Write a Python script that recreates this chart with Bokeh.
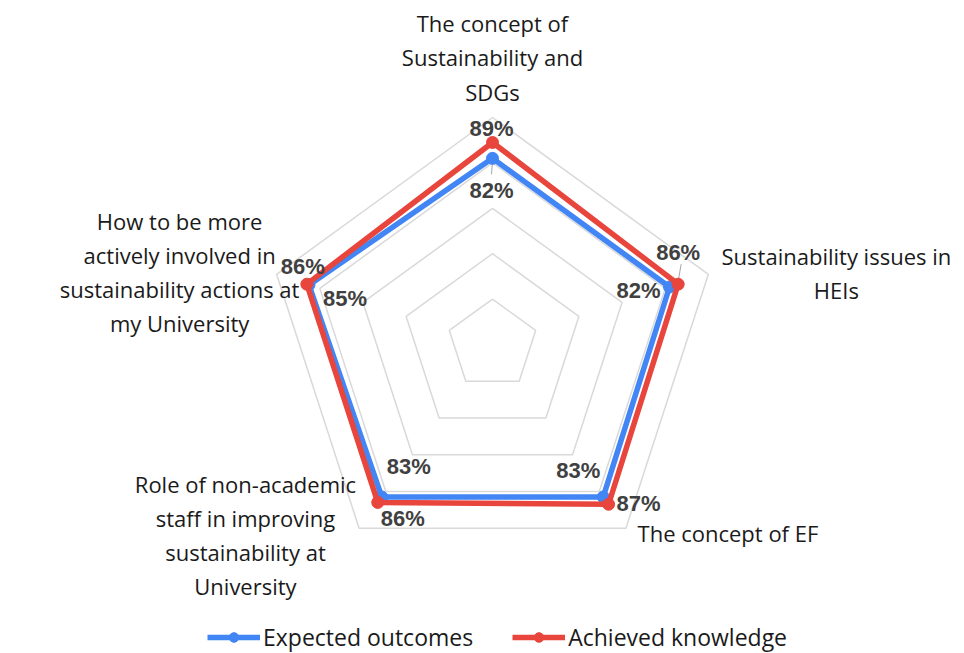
import numpy as np
from bokeh.plotting import figure
from bokeh.models import Range1d, Legend, LegendItem, ColumnDataSource
from bokeh.core.properties import value
from bokeh.embed import file_html
from bokeh.resources import INLINE

# ---------------- data ----------------
categories = [
    "The concept of\nSustainability and\nSDGs",
    "Sustainability issues in\nHEIs",
    "The concept of EF",
    "Role of non-academic\nstaff in improving\nsustainability at\nUniversity",
    "How to be more\nactively involved in\nsustainability actions at\nmy University",
]
expected = [82, 82, 83, 83, 85]
achieved = [89, 86, 87, 86, 86]
ring_levels = [20, 40, 60, 80, 100]
series_names = ["Expected outcomes", "Achieved knowledge"]

# ---------------- layout / style ----------------
W, H = 964, 653
CX, CY = 492, 344      # centre of radar in pixels
S = 2.27               # pixels per percent
BLUE = "#4285F4"
RED = "#E8453C"
GRID = "#D9D9D9"
LABEL_COLOR = "#404040"
CAT_FONT = "Open Sans"
VAL_FONT = "Liberation Sans"

n = len(categories)
theta = np.pi / 2 - 2 * np.pi * np.arange(n) / n
cos_t, sin_t = np.cos(theta), np.sin(theta)

p = figure(width=W, height=H,
           x_range=Range1d(-CX / S, (W - CX) / S),
           y_range=Range1d(-(H - CY) / S, CY / S),
           x_axis_type=None, y_axis_type=None,
           output_backend="svg", toolbar_location=None, min_border=0)
p.grid.visible = False
p.outline_line_color = None
p.background_fill_color = "white"
p.border_fill_color = "white"

# rings
xs = [list(r * cos_t) + [r * cos_t[0]] for r in ring_levels]
ys = [list(r * sin_t) + [r * sin_t[0]] for r in ring_levels]
p.multi_line(xs, ys, line_color=GRID, line_width=1.5)

def closed(vals):
    v = np.array(vals, dtype=float)
    x = v * cos_t
    y = v * sin_t
    return list(x) + [x[0]], list(y) + [y[0]], list(x), list(y)

ex_x, ex_y, ex_px, ex_py = closed(expected)
ac_x, ac_y, ac_px, ac_py = closed(achieved)

# leader lines (pixel offsets converted to data units)
lead_src = ColumnDataSource(dict(
    x0=[ex_px[0], ac_px[1]],
    y0=[ex_py[0] - 3 / S, ac_py[1] + 3 / S],
    x1=[ex_px[0] - 1 / S, ac_px[1] + 3 / S],
    y1=[ex_py[0] - 16 / S, ac_py[1] + 20 / S],
))
p.segment("x0", "y0", "x1", "y1", source=lead_src, line_color="#A6A6A6", line_width=1)

bl = p.line(ex_x, ex_y, line_color=BLUE, line_width=5.5, line_join="round")
bs = p.scatter(ex_px, ex_py, size=12, marker="circle", fill_color=BLUE, line_color=BLUE)
rl = p.line(ac_x, ac_y, line_color=RED, line_width=5.5, line_join="round")
rs = p.scatter(ac_px, ac_py, size=12, marker="circle", fill_color=RED, line_color=RED)

# value labels
ex_dx = [-1, -31, -25, 27, 36]
ex_dy = [32, 3.5, -26, -30, 14]
ac_dx = [-1, 0, 30, 25, -4]
ac_dy = [-14, -32, -1, 16, -18]
vsrc = ColumnDataSource(dict(
    x=ex_px + ac_px, y=ex_py + ac_py,
    text=[f"{v}%" for v in expected] + [f"{v}%" for v in achieved],
    dx=ex_dx + ac_dx, dy=ex_dy + ac_dy,
))
p.text("x", "y", text="text", x_offset="dx", y_offset="dy", source=vsrc,
       text_font=value(VAL_FONT), text_font_style="bold", text_font_size="22px",
       text_color=LABEL_COLOR, text_align="center", text_baseline="middle")

# category labels
outer = ring_levels[-1]
cdx = [0, 128, 102, 245 - 358.6, -97]
cdy = [-60, -1.5, 4.4, 7, -2.4]
csrc = ColumnDataSource(dict(x=list(outer * cos_t), y=list(outer * sin_t),
                             text=categories, dx=cdx, dy=cdy))
p.text("x", "y", text="text", x_offset="dx", y_offset="dy", source=csrc,
       text_font=value(CAT_FONT), text_font_size="22px", text_color="#1a1a1a",
       text_align="center", text_baseline="middle", text_line_height=1.135)

legend = Legend(items=[LegendItem(label=series_names[0], renderers=[bl, bs]),
                       LegendItem(label=series_names[1], renderers=[rl, rs])],
                orientation="horizontal", location=(207, 0),
                glyph_width=53, glyph_height=24, label_height=24, label_standoff=3,
                spacing=39, padding=0, margin=0,
                border_line_color=None, background_fill_alpha=0,
                label_text_font=CAT_FONT, label_text_font_size="23px",
                label_text_color="#1a1a1a")
p.add_layout(legend)

open("out.html", "w").write(file_html(p, INLINE))
